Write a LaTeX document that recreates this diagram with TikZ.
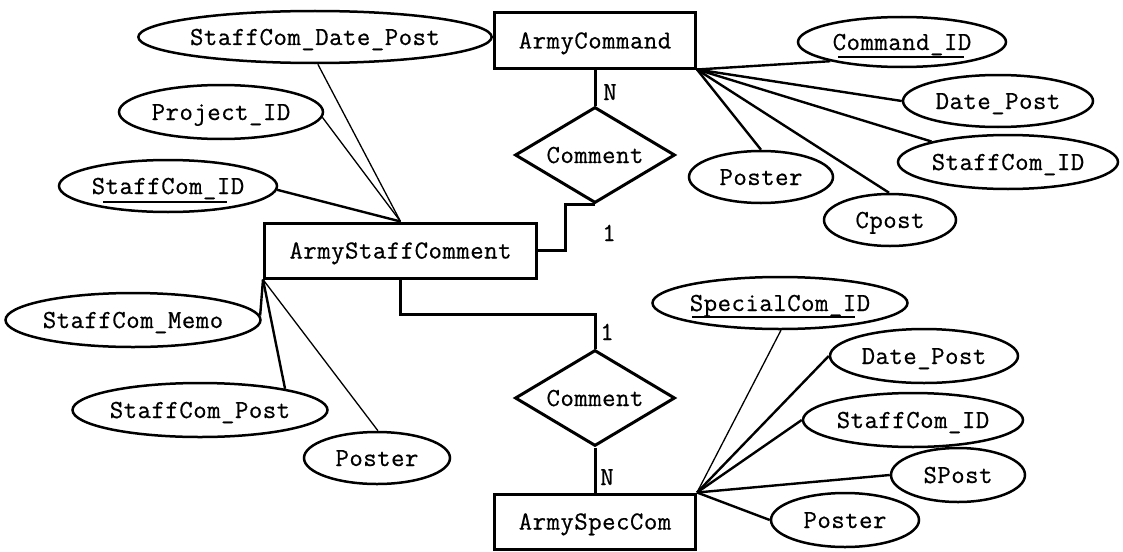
\documentclass[tikz,border=0pt]{standalone}
\usepackage{fontspec}
\setmonofont{Latin Modern Mono}[LetterSpace=2,FakeBold=0.6]
\usetikzlibrary{shapes.geometric}
\begin{document}
\begin{tikzpicture}[x=1pt,y=-1pt,
  every node/.style={font=\fontsize{26}{28}\selectfont\ttfamily, inner sep=0pt, text height=16pt, text depth=0pt},
  entity/.style={draw, line width=3pt, minimum width=#1, minimum height=55pt},
  attr/.style n args={2}{ellipse, draw, line width=2.5pt, minimum width=#1, minimum height=#2},
  rel/.style={diamond, draw, line width=3pt, aspect=1.66, minimum width=160pt, minimum height=96pt},
  card/.style={},
  thk/.style={line width=2.4pt},
  thn/.style={line width=1.3pt},
  conn/.style={line width=3pt},
  ul/.style={line width=1.5pt}
]
\useasboundingbox (0,0) rectangle (1123,551);
\fill[white] (0,0) rectangle (1123,551);

% entities
\node[entity=272pt] (ASC) at (400.5,250.5) {ArmyStaffComment};
\node[entity=201pt] (AC) at (595,40.5) {ArmyCommand};
\node[entity=201pt] (ASP) at (595,521.5) {ArmySpecCom};

% relationships
\node[rel] (D1) at (595,155) {Comment};
\node[rel] (D2) at (595,398) {Comment};

% attributes
\node[attr={318pt}{52pt}] (SCDP) at (315,37) {StaffCom\_Date\_Post};
\node[attr={204pt}{54pt}] (PID) at (221,112) {Project\_ID};
\node[attr={218pt}{52pt}] (SCID1) at (168,186) {StaffCom\_ID};
\node[attr={250pt}{54pt}] (SCM) at (133,320) {StaffCom\_Memo};
\node[attr={244pt}{54pt}] (SCP) at (200,410) {StaffCom\_Post};
\node[attr={146pt}{52pt}] (PO1) at (377,458) {Poster};
\node[attr={208pt}{50pt}] (CID) at (902,42) {Command\_ID};
\node[attr={190pt}{52pt}] (DP1) at (998,101) {Date\_Post};
\node[attr={220pt}{54pt}] (SCID2) at (1008,162) {StaffCom\_ID};
\node[attr={144pt}{52pt}] (PO2) at (761,177) {Poster};
\node[attr={132pt}{52pt}] (CP) at (890,220) {Cpost};
\node[attr={244pt}{52pt}] (SPID) at (780,303) {SpecialCom\_ID};
\node[attr={188pt}{54pt}] (DP2) at (924,356) {Date\_Post};
\node[attr={220pt}{54pt}] (SCID3) at (913,420) {StaffCom\_ID};
\node[attr={134pt}{54pt}] (SP) at (958,475) {SPost};
\node[attr={148pt}{54pt}] (PO3) at (845,520) {Poster};

% key underlines
\draw[ul] ([xshift=-65pt,yshift=-16pt]SCID1.center) -- ([xshift=59pt,yshift=-16pt]SCID1.center);
\draw[ul] ([xshift=-64pt,yshift=-15pt]CID.center) -- ([xshift=62pt,yshift=-15pt]CID.center);
\draw[ul] ([xshift=-88pt,yshift=-14pt]SPID.center) -- ([xshift=75pt,yshift=-14pt]SPID.center);

% cardinality labels
\node[card] (n1) at (610,92) {N};
\node[card] (o1) at (609,233) {1};
\node[card] (o2) at (607,332) {1};
\node[card] (n2) at (607,477) {N};

% relationship connectors
\draw[conn] (AC.south) -- (D1.north);
\draw[conn] (D1.south) -- ([xshift=-30pt]D1.south) |- (ASC.east);
\draw[conn] (ASC.south) -- ++(0,35) -| (D2.north);
\draw[conn] (D2.south) -- (ASP.north);

% ArmyStaffComment attributes
\draw[thn] (ASC.north) -- (SCDP.-84);
\draw[thn] (ASC.north) -- (PID.-3);
\draw[thk] (ASC.north) -- (SCID1.-2);
\draw[thk] (ASC.south west) -- (SCM.2);
\draw[thk] (ASC.south west) -- (SCP.14);
\draw[thn] (ASC.south west) -- (PO1.88);

% ArmyCommand attributes
\draw[thk] (AC.south east) -- (CID.195);
\draw[thk] (AC.south east) -- (DP1.180);
\draw[thk] (AC.south east) -- (SCID2.165);
\draw[thk] (AC.south east) -- (PO2.90);
\draw[thk] (AC.south east) -- (CP.92);

% ArmySpecCom attributes
\draw[thn] (ASP.north east) -- (SPID.-88);
\draw[thk] (ASP.north east) -- (DP2.180);
\draw[thk] (ASP.north east) -- (SCID3.180);
\draw[thk] (ASP.north east) -- (SP.180);
\draw[thk] (ASP.north east) -- (PO3.180);
\end{tikzpicture}
\end{document}
